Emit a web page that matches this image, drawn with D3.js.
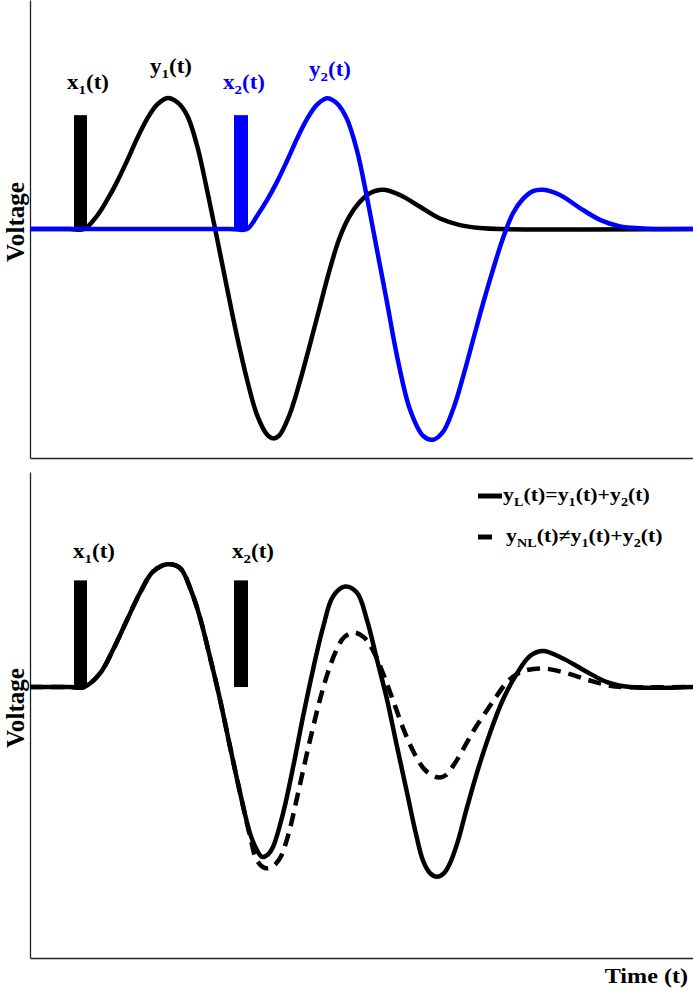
<!DOCTYPE html>
<html>
<head>
<meta charset="utf-8">
<script src="https://cdn.jsdelivr.net/npm/d3@7"></script>
<style>
  body { margin: 0; background: #fff; }
  text { font-family: "Liberation Serif", "Times New Roman", serif; font-weight: bold; }
</style>
</head>
<body>
<div id="chart"></div>
<script>
// time in arbitrary units, voltage normalised to the first peak
var y1Time = [0, 40, 54, 67, 77, 87, 97, 107, 117, 127, 137, 147, 157, 167, 177, 187, 197, 207, 217, 227, 237, 243, 249, 259, 269, 279, 289, 299, 309, 319, 329, 339, 353, 370, 390, 410, 430, 450, 470, 663];
var y1Volt = [0, 0, 0, 0.1, 0.22, 0.36, 0.52, 0.69, 0.84, 0.95, 1.0, 0.97, 0.87, 0.64, 0.3, -0.07, -0.45, -0.82, -1.15, -1.42, -1.57, -1.6, -1.58, -1.43, -1.19, -0.91, -0.62, -0.33, -0.08, 0.09, 0.2, 0.27, 0.3, 0.26, 0.17, 0.08, 0.03, 0.008, 0, 0];

var y2Time = [0, 200, 217, 227, 237, 247, 257, 267, 277, 287, 297, 307, 317, 327, 337, 347, 357, 367, 380, 393, 403, 413, 423, 433, 443, 453, 463, 473, 483, 493, 503, 513, 530, 550, 570, 590, 610, 630, 663];
var y2Volt = [0, 0, 0, 0.1, 0.22, 0.36, 0.52, 0.69, 0.84, 0.95, 1.0, 0.96, 0.84, 0.6, 0.24, -0.16, -0.56, -0.97, -1.38, -1.58, -1.61, -1.55, -1.38, -1.13, -0.85, -0.57, -0.31, -0.07, 0.12, 0.23, 0.29, 0.3, 0.26, 0.16, 0.07, 0.02, 0.005, 0, 0];

var yLTime = [0, 40, 54, 70, 83, 97, 110, 123, 137, 150, 161, 170, 180, 190, 200, 210, 220, 226, 232, 238, 243, 253, 263, 273, 283, 293, 303, 315, 327, 337, 347, 357, 367, 377, 385, 393, 400, 407, 414, 420, 428, 436, 447, 460, 473, 487, 500, 513, 533, 553, 577, 600, 663];
var yLVolt = [0, 0, 0, 0.11, 0.3, 0.54, 0.76, 0.93, 0.99, 0.96, 0.78, 0.56, 0.24, -0.1, -0.48, -0.85, -1.18, -1.3, -1.37, -1.35, -1.29, -1.02, -0.65, -0.24, 0.14, 0.48, 0.73, 0.81, 0.76, 0.54, 0.22, -0.1, -0.48, -0.85, -1.15, -1.4, -1.5, -1.53, -1.5, -1.42, -1.24, -1.0, -0.69, -0.37, -0.1, 0.11, 0.25, 0.29, 0.23, 0.14, 0.04, 0, 0];

var yNLTime = [0, 40, 54, 70, 83, 97, 110, 123, 137, 150, 161, 170, 180, 190, 200, 210, 220, 227, 235, 242, 250, 258, 266, 274, 282, 290, 298, 306, 314, 324, 334, 344, 354, 364, 374, 384, 394, 404, 410, 416, 426, 436, 446, 456, 466, 476, 486, 496, 513, 533, 557, 580, 593, 663];
var yNLVolt = [0, 0, 0, 0.11, 0.3, 0.54, 0.76, 0.93, 0.99, 0.96, 0.78, 0.56, 0.24, -0.1, -0.48, -0.85, -1.2, -1.4, -1.46, -1.45, -1.38, -1.2, -0.93, -0.64, -0.36, -0.1, 0.12, 0.29, 0.4, 0.44, 0.4, 0.28, 0.09, -0.13, -0.35, -0.53, -0.66, -0.72, -0.73, -0.71, -0.6, -0.46, -0.32, -0.2, -0.08, 0.03, 0.1, 0.135, 0.15, 0.12, 0.06, 0.01, 0, 0];

// input pulses x1(t), x2(t)
var pulseStart = [44, 204];
var pulseEnd = [57, 218];
var pulseTopVolt = 0.87;
var pulseBottomVolt = 0.86;

var svgWidth = 693;
var svgHeight = 991;
var stretch = 1.15;

var svg = d3.select("#chart")
  .append("svg")
  .attr("width", svgWidth)
  .attr("height", svgHeight);

var xScale = d3.scaleLinear().domain([0, 663]).range([30, 693]);
var yTop = d3.scaleLinear().domain([-1.75, 1.75]).range([458, 0]);
var yBottom = d3.scaleLinear().domain([-2.185, 1.734]).range([958, 472]);

function zip(ts, vs) {
  return ts.map(function(t, i) { return { t: t, v: vs[i] }; });
}

function lineFor(yScale) {
  return d3.line()
    .x(d => xScale(d.t))
    .y(d => yScale(d.v))
    .curve(d3.curveCatmullRom.alpha(0.5));
}

function drawAxes(yScale) {
  svg.append("g")
    .attr("transform", `translate(0, ${yScale.range()[0]})`)
    .call(d3.axisBottom(xScale).tickValues([]).tickSizeOuter(0))
    .select(".domain").attr("stroke", "#222").attr("stroke-width", 1.3);
  svg.append("g")
    .attr("transform", `translate(${xScale.range()[0]}, 0)`)
    .call(d3.axisLeft(yScale).tickValues([]).tickSizeOuter(0))
    .select(".domain").attr("stroke", "#222").attr("stroke-width", 1.3);
}

function pulse(i, yScale, h, color) {
  svg.append("rect")
    .attr("x", xScale(pulseStart[i]))
    .attr("width", xScale(pulseEnd[i]) - xScale(pulseStart[i]))
    .attr("y", yScale(h))
    .attr("height", yScale(0) - yScale(h))
    .attr("fill", color);
}

// label with subscripts: parts = [main, sub, rest, main, sub, rest ...]
function label(x, y, size, color, parts) {
  var t = svg.append("text")
    .attr("transform", `translate(${x}, ${y}) scale(${stretch}, 1)`)
    .attr("font-size", size)
    .attr("fill", color);
  for (var k = 0; k < parts.length; k += 3) {
    t.append("tspan").text(parts[k]);
    t.append("tspan").attr("font-size", size * 0.65).attr("dy", size * 0.25).text(parts[k + 1]);
    t.append("tspan").attr("dy", -size * 0.25).text(parts[k + 2]);
  }
  return t;
}

var blue = "#0000ff";

// ---- top panel
drawAxes(yTop);
pulse(0, yTop, pulseTopVolt, "#000");
svg.append("path")
  .datum(zip(y1Time, y1Volt))
  .attr("d", lineFor(yTop))
  .attr("fill", "none").attr("stroke", "#000").attr("stroke-width", 4.5);
pulse(1, yTop, pulseTopVolt, blue);
svg.append("path")
  .datum(zip(y2Time, y2Volt))
  .attr("d", lineFor(yTop))
  .attr("fill", "none").attr("stroke", blue).attr("stroke-width", 4.5);

label(67, 89, 20, "#000", ["x", "1", "(t)"]);
label(150, 73, 20, "#000", ["y", "1", "(t)"]);
label(223, 89, 20, blue, ["x", "2", "(t)"]);
label(309, 76, 20, blue, ["y", "2", "(t)"]);

// ---- bottom panel
drawAxes(yBottom);
pulse(0, yBottom, pulseBottomVolt, "#000");
pulse(1, yBottom, pulseBottomVolt, "#000");
svg.append("path")
  .datum(zip(yNLTime, yNLVolt))
  .attr("d", lineFor(yBottom))
  .attr("fill", "none").attr("stroke", "#000").attr("stroke-width", 4.5)
  .attr("stroke-dasharray", "13,8");
svg.append("path")
  .datum(zip(yLTime, yLVolt))
  .attr("d", lineFor(yBottom))
  .attr("fill", "none").attr("stroke", "#000").attr("stroke-width", 4.5);

label(73, 558, 20, "#000", ["x", "1", "(t)"]);
label(232, 558, 20, "#000", ["x", "2", "(t)"]);

// legend
svg.append("line").attr("x1", 478).attr("x2", 502).attr("y1", 496).attr("y2", 496)
  .attr("stroke", "#000").attr("stroke-width", 5);
svg.append("line").attr("x1", 478).attr("x2", 492).attr("y1", 537).attr("y2", 537)
  .attr("stroke", "#000").attr("stroke-width", 5);
label(503, 501, 19, "#000", ["y", "L", "(t)=", "y", "1", "(t)+", "y", "2", "(t)"]);
label(506, 542, 19, "#000", ["y", "NL", "(t)\u2260", "y", "1", "(t)+", "y", "2", "(t)"]);

// axis titles
svg.append("text")
  .attr("transform", `translate(688, 983) scale(${stretch}, 1)`)
  .attr("text-anchor", "end")
  .attr("font-size", 21)
  .text("Time (t)");

[222, 708].forEach(function(cy) {
  svg.append("text")
    .attr("transform", `translate(24, ${cy}) scale(${stretch}, 1) rotate(-90)`)
    .attr("text-anchor", "middle")
    .attr("font-size", 22)
    .attr("textLength", 80)
    .attr("lengthAdjust", "spacingAndGlyphs")
    .text("Voltage");
});
</script>
</body>
</html>
